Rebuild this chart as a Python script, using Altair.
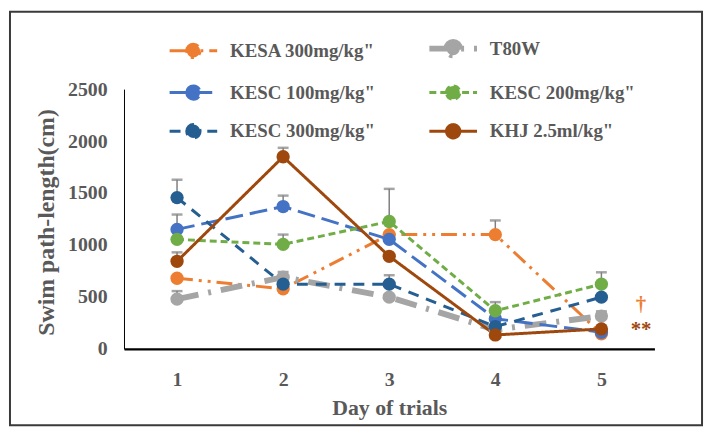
import altair as alt
import pandas as pd

days = ["1", "2", "3", "4", "5"]
series = ['KESA 300mg/kg"', "T80W", 'KESC 100mg/kg"', 'KESC 200mg/kg"', 'KESC 300mg/kg"', 'KHJ 2.5ml/kg"']

kesa300 = [680, 578, 1100, 1100, 145]
t80w = [479, 690, 498, 185, 316]
kesc100 = [1150, 1370, 1054, 290, 160]
kesc200 = [1054, 1006, 1226, 367, 623]
kesc300 = [1456, 623, 623, 215, 498]
khj = [843, 1849, 891, 134, 192]

err_kesa300 = [0, 0, 0, 136, 0]
err_t80w = [77, 50, 0, 0, 45]
err_kesc100 = [143, 105, 0, 0, 0]
err_kesc200 = [0, 94, 314, 83, 114]
err_kesc300 = [172, 0, 86, 0, 0]
err_khj = [86, 86, 0, 0, 0]

colors = ["#ED7D31", "#A5A5A5", "#4472C4", "#70AD47", "#255E91", "#9E480E"]
dashes = [[16, 6, 3, 6, 3, 6], [22, 10, 3, 10], [18, 7], [7, 4], [11, 8], [1, 0]]
widths = [3, 6, 3, 3, 3, 3]

annot_text = ["\u2020", "**"]
annot_value = [425, 185]
annot_color = ["#ED7D31", "#9E480E"]

values = [kesa300, t80w, kesc100, kesc200, kesc300, khj]
errors = [err_kesa300, err_t80w, err_kesc100, err_kesc200, err_kesc300, err_khj]

rows = []
for s, vals, errs in zip(series, values, errors):
    for d, v, e in zip(days, vals, errs):
        rows.append({"day": d, "series": s, "value": v, "upper": v + e if e > 0 else None})
df = pd.DataFrame(rows)
err_df = df.dropna(subset=["upper"])
annot_df = pd.DataFrame({"day": ["5", "5"], "value": annot_value, "text": annot_text, "c": annot_color})

FONT = "Liberation Serif"
GREY = "#595959"
W, H = 535, 262

sym_path = "M-1,0L1,0M-0.28,0A0.28,0.28,0,1,1,0.28,0A0.28,0.28,0,1,1,-0.28,0Z"
legend = alt.Legend(
    title=None, orient="none", legendX=43, legendY=-68, columns=2, direction="horizontal",
    symbolType=sym_path, symbolSize=2304, labelFont=FONT, labelFontSize=19,
    labelFontWeight="bold", labelColor=GREY, labelOffset=10, columnPadding=42,
    rowPadding=-13, labelLimit=300,
)

xenc = alt.X("day:O", scale=alt.Scale(type="point", padding=0.5),
             axis=alt.Axis(title="Day of trials", labelAngle=0, ticks=False, labelPadding=21,
                           domainColor="black", domainWidth=2.5, titlePadding=8))
yenc = alt.Y("value:Q", scale=alt.Scale(domain=[0, 2500], nice=False),
             axis=alt.Axis(title="Swim path-length(cm)", values=[0, 500, 1000, 1500, 2000, 2500],
                           format="d", ticks=False, grid=False, labelPadding=17, domainColor="black",
                           domainWidth=1, titleX=-78, titleY=134, titleAngle=-90,
                           titleAlign="center", titleBaseline="middle", titleFontSize=24))

base = alt.Chart(df)

err_rule = alt.Chart(err_df).mark_rule(color="#7F7F7F", strokeWidth=1.5).encode(
    x=xenc, y=alt.Y("value:Q"), y2="upper:Q")
err_cap = alt.Chart(err_df).mark_tick(color="#7F7F7F", thickness=2.5, size=11).encode(
    x=xenc, y=alt.Y("upper:Q"))

lines = base.mark_line().encode(
    x=xenc, y=yenc,
    stroke=alt.Stroke("series:N", scale=alt.Scale(domain=series, range=colors), legend=legend),
    strokeDash=alt.StrokeDash("series:N", scale=alt.Scale(domain=series, range=dashes), legend=legend),
    strokeWidth=alt.StrokeWidth("series:N", scale=alt.Scale(type="ordinal", domain=series, range=widths), legend=legend),
    order="day:O",
)
points = base.mark_circle(size=180, opacity=1).encode(
    x=xenc, y=yenc,
    fill=alt.Fill("series:N", scale=alt.Scale(domain=series, range=colors), legend=legend),
)
annots = alt.Chart(annot_df).mark_text(dx=40, font=FONT, fontSize=21, fontWeight="bold").encode(
    x=xenc, y=alt.Y("value:Q"), text="text:N", color=alt.Color("c:N", scale=None))

frame = alt.Chart(pd.DataFrame({"a": [0]})).mark_rect(
    fill="transparent", stroke="#3a3a3a", strokeWidth=2).encode(
    x=alt.value(-115), x2=alt.value(583), y=alt.value(-78), y2=alt.value(339))

chart = alt.layer(err_rule, err_cap, lines, points, annots, frame).properties(
    width=W, height=H, autosize=alt.AutoSizeParams(type="none"),
    padding={"left": 117, "top": 80, "right": 52, "bottom": 80},
).configure_view(stroke=None).configure_axis(
    labelFont=FONT, labelFontSize=20, labelFontWeight="bold", labelColor=GREY,
    titleFont=FONT, titleFontSize=22, titleFontWeight="bold", titleColor=GREY,
)

chart.save("out.html", embed_options={"renderer": "svg", "actions": False})
